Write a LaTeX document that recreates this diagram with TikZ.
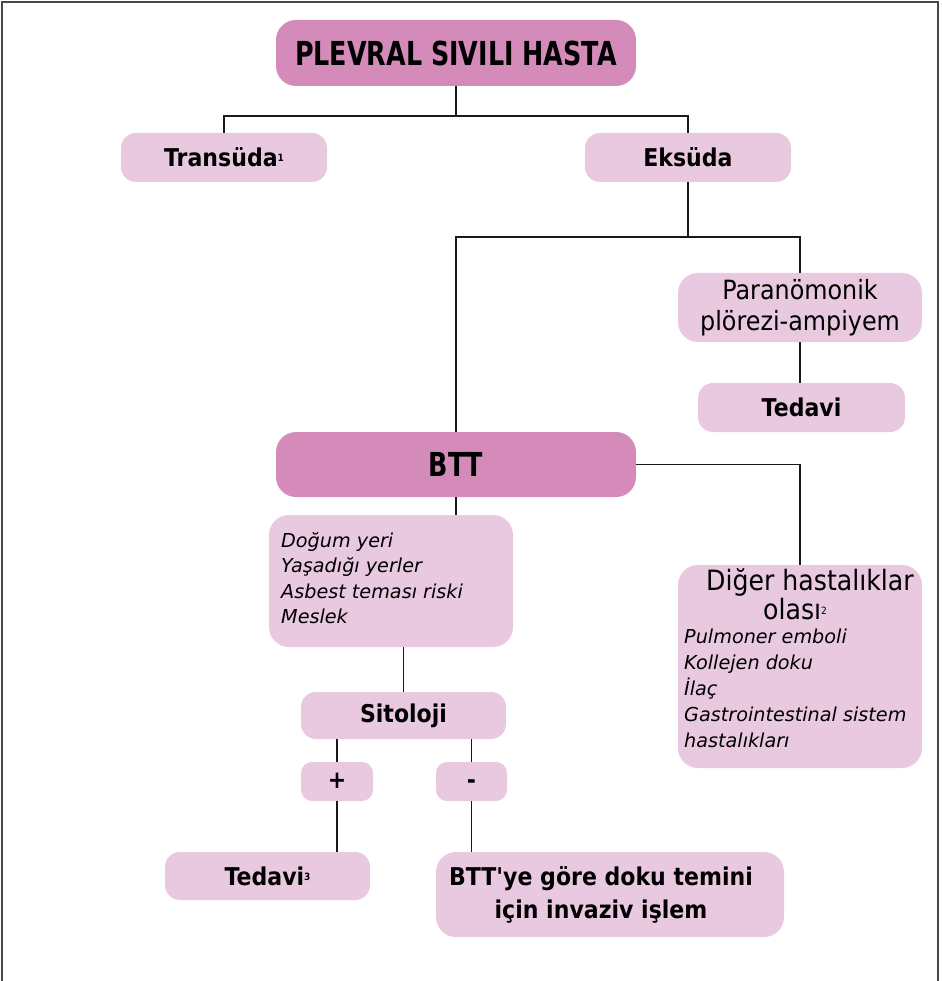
\documentclass[tikz,border=0pt]{standalone}
\usepackage{fontspec}
\setmainfont{DejaVu Sans}
\newfontfamily\boldface{DejaVu Sans}[FakeStretch=0.9,Ligatures=TeXOff]
\newfontfamily\titleface{DejaVu Sans}[FakeStretch=0.77]
\newfontfamily\plainface{DejaVu Sans}[FakeStretch=0.9]
\newfontfamily\slantface{DejaVu Sans}

\definecolor{darkpink}{HTML}{D48BBA}
\definecolor{lightpink}{HTML}{E9C9E0}
\definecolor{framegray}{HTML}{484848}

% small footnote mark after a word
\newcommand\notemark[1]{\raisebox{5pt}{\fontsize{10}{10}\selectfont #1}}

\tikzset{
  box/.style={fill=lightpink, draw=none, rounded corners=15pt, inner sep=0pt, align=center, text=black},
  bigbox/.style={box, rounded corners=20pt},
  smallbox/.style={box, rounded corners=11pt},
  headbox/.style={box, fill=darkpink, rounded corners=20pt},
  conn/.style={draw=black!90, line width=1.3pt},
  boldtxt/.style={font=\boldface\bfseries\fontsize{24.5}{33}\selectfont},
  titletxt/.style={font=\titleface\bfseries\fontsize{33}{38}\selectfont},
  plaintxt/.style={font=\plainface\fontsize{26.5}{30.5}\selectfont},
  headtxt/.style={font=\plainface\fontsize{28}{29}\selectfont, inner sep=0pt},
  slanttxt/.style={font=\slantface\itshape\fontsize{19.2}{25.5}\selectfont, inner sep=0pt},
  signtxt/.style={boldtxt, text height=14.5pt, text depth=0pt},
}

\begin{document}
\begin{tikzpicture}[x=1pt, y=-1pt]
\useasboundingbox (0,0) rectangle (941,981);

% outer frame (open at the bottom)
\draw[framegray, line width=2.2pt] (2,981) -- (2,2) -- (938,2) -- (938,981);

% boxes
\node[headbox, titletxt, minimum width=360pt, minimum height=66pt] (title) at (456,53) {PLEVRAL SIVILI HASTA};
\node[box, boldtxt, minimum width=206pt, minimum height=49pt] (trans) at (224,157.5) {Transüda\notemark{1}};
\node[box, boldtxt, minimum width=206pt, minimum height=49pt] (eks) at (688,157.5) {Eksüda};
\node[bigbox, plaintxt, minimum width=244pt, minimum height=69pt] (para) at (800,307.5) {Paranömonik\\plörezi-ampiyem};
\node[box, boldtxt, minimum width=207pt, minimum height=49pt] (ted1) at (801.5,407.5) {Tedavi};
\node[headbox, titletxt, minimum width=360pt, minimum height=65pt] (btt) at (456,464.5) {BTT};

% history box
\node[bigbox, minimum width=244pt, minimum height=132pt] (risk) at (391,581) {};
\foreach \ln [count=\i from 0] in {Doğum yeri, Yaşadığı yerler, Asbest teması riski, Meslek}
  \node[slanttxt, anchor=base west] (risk-\i) at (281,{547.5+25.3*\i}) {\ln};

% other diseases box
\node[bigbox, minimum width=244pt, minimum height=203pt] (diger) at (800,666.5) {};
\node[headtxt, anchor=base] (diger-h1) at (810,590) {Diğer hastalıklar};
\node[headtxt, anchor=base] (diger-h2) at (795,619) {olası\notemark{2}};
\foreach \ln [count=\i from 0] in {Pulmoner emboli, Kollejen doku, İlaç, Gastrointestinal sistem, hastalıkları}
  \node[slanttxt, anchor=base west] (diger-\i) at (684,{643+26*\i}) {\ln};

\node[box, boldtxt, minimum width=205pt, minimum height=47pt] (sito) at (403.5,715.5) {Sitoloji};
\node[smallbox, signtxt, minimum width=72pt, minimum height=39pt] (plus) at (337,781.5) {+};
\node[smallbox, signtxt, minimum width=71pt, minimum height=39pt] (minus) at (471.5,781.5) {-};
\node[box, boldtxt, minimum width=205pt, minimum height=48pt] (ted3) at (267.5,876) {Tedavi\notemark{3}};
\node[bigbox, minimum width=348pt, minimum height=85pt] (inv) at (610,894.5) {};
\node[boldtxt, align=center, inner sep=0pt] (inv-text) at (601,894.5) {BTT'ye göre doku temini\\için invaziv işlem};

% connectors
\coordinate (j1) at (456,116);
\coordinate (j2) at (688,237);
\draw[conn] (title.south) -- (j1);
\draw[conn] (trans.north) |- (j1) -| (eks.north);
\draw[conn] (eks.south) -- (j2);
\draw[conn] (btt.north) |- (j2) -| (para.north);
\draw[conn] (para.south) -- (para.south |- ted1.north);
\draw[conn] (btt.east) -| (diger.north);
\draw[conn] (btt.south) -- (btt.south |- risk.north);
\draw[conn] (sito.north) -- (sito.north |- risk.south);
\draw[conn] (plus.north) -- (plus.north |- sito.south);
\draw[conn] (minus.north) -- (minus.north |- sito.south);
\draw[conn] (plus.south) -- (plus.south |- ted3.north);
\draw[conn] (minus.south) -- (minus.south |- inv.north);
\end{tikzpicture}
\end{document}
